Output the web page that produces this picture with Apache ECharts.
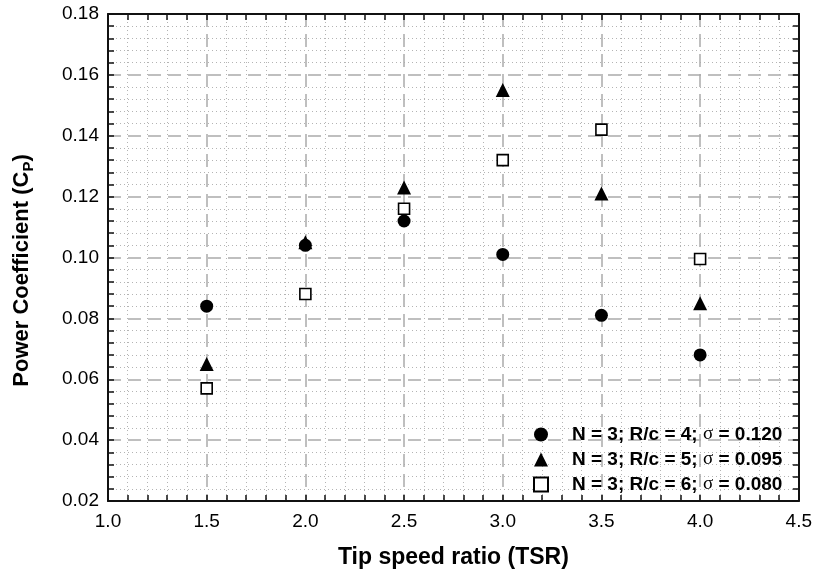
<!DOCTYPE html>
<html lang="en">
<head>
    <meta charset="UTF-8">
    <title>Power coefficient vs TSR</title>
    <script src="https://fastly.jsdelivr.net/npm/echarts@6/dist/echarts.min.js"></script>
    <style>
        body { margin: 0; background: #fff; }
    </style>
</head>
<body>
    <div id="dv" style="width:815px;height:578px;"></div>
</body>
<script>
   // tip speed ratio values
   var tsr = [1.5, 2.0, 2.5, 3.0, 3.5, 4.0]
   // Cp for each configuration
   var cpRc4 = [0.084, 0.104, 0.112, 0.101, 0.081, 0.068]
   var cpRc5 = [0.065, 0.105, 0.123, 0.155, 0.121, 0.085]
   var cpRc6 = [0.057, 0.088, 0.116, 0.132, 0.142, 0.0995]
   var names = ['N = 3; R/c = 4; σ = 0.120', 'N = 3; R/c = 5; σ = 0.095', 'N = 3; R/c = 6; σ = 0.080']

   function pairs(vals) {
       return tsr.map((x, i) => [x, vals[i]])
   }

   var dv = document.getElementById('dv')
   var myChart = echarts.init(dv)
   var font = 'Liberation Sans, Arial, sans-serif'

   var tick = { show: true, inside: true, length: 6, lineStyle: { color: '#111', width: 1.5 } }
   var minor = { show: true, splitNumber: 5, length: 6, lineStyle: { color: '#111', width: 1.5 } }
   var line = { show: true, onZero: false, lineStyle: { color: '#111', width: 2 } }
   var major = { show: true, lineStyle: { color: '#aaa', width: 1.5, type: [13, 7] } }
   var minorGrid = { show: true, lineStyle: { color: '#b4b4b4', width: 1, type: [1, 3] } }

   var option = {
        backgroundColor: '#fff',
        animation: false,
        grid: { left: 108, right: 13, top: 14, bottom: 77 },
        xAxis: [{
            type: 'value', min: 1.0, max: 4.5, interval: 0.5, position: 'bottom',
            axisLine: line, axisTick: tick, minorTick: minor,
            splitLine: major, minorSplitLine: minorGrid,
            axisLabel: { color: '#000', fontSize: 19, fontFamily: font, margin: 11,
                formatter: v => v.toFixed(1) },
            name: 'Tip speed ratio (TSR)', nameLocation: 'middle', nameGap: 45,
            nameTextStyle: { color: '#000', fontSize: 23, fontWeight: 'bold', fontFamily: font }
        }, {
            type: 'value', min: 1.0, max: 4.5, interval: 0.5, position: 'top',
            axisLine: line, axisTick: tick, minorTick: minor,
            splitLine: { show: false }, axisLabel: { show: false }
        }],
        yAxis: [{
            type: 'value', min: 0.02, max: 0.18, interval: 0.02, position: 'left',
            axisLine: line, axisTick: tick, minorTick: minor,
            splitLine: major, minorSplitLine: minorGrid,
            axisLabel: { color: '#000', fontSize: 19, fontFamily: font, margin: 9,
                formatter: v => v.toFixed(2) },
            name: '{a|Power Coefficient (C}{s|P}{a|)}', nameLocation: 'middle', nameGap: 72,
            nameTextStyle: {
                padding: [0, 26, 0, 0],
                rich: {
                    a: { color: '#000', fontSize: 22, fontWeight: 'bold', fontFamily: font, lineHeight: 28 },
                    s: { color: '#000', fontSize: 15, fontWeight: 'bold', fontFamily: font, verticalAlign: 'bottom', lineHeight: 20, padding: [10, 0, 0, 0] }
                }
            }
        }, {
            type: 'value', min: 0.02, max: 0.18, interval: 0.02, position: 'right',
            axisLine: line, axisTick: tick, minorTick: minor,
            splitLine: { show: false }, axisLabel: { show: false }
        }],
        legend: {
            orient: 'vertical', left: 528, top: 420,
            itemWidth: 14, itemHeight: 14, itemGap: 6,
            data: names,
            formatter: function (n) {
                var p = n.split('σ')
                return '{b|' + p[0] + '}{g|σ}{b|' + p[1] + '}'
            },
            textStyle: {
                padding: [0, 0, 0, 19],
                rich: {
                    b: { color: '#000', fontSize: 19, fontWeight: 'bold', fontFamily: font, lineHeight: 22 },
                    g: { color: '#000', fontSize: 19, fontWeight: 'normal', fontFamily: 'Liberation Serif, serif', lineHeight: 22 }
                }
            }
        },
        series: [{
            name: names[0], type: 'scatter', z: 4,
            symbol: 'circle', symbolSize: 13,
            itemStyle: { color: '#000', opacity: 1 },
            data: pairs(cpRc4)
        }, {
            name: names[1], type: 'scatter', z: 3,
            symbol: 'triangle', symbolSize: 14,
            itemStyle: { color: '#000', opacity: 1 },
            data: pairs(cpRc5)
        }, {
            name: names[2], type: 'scatter', z: 3,
            symbol: 'rect', symbolSize: 11,
            itemStyle: { color: '#fff', borderColor: '#000', borderWidth: 1.6, opacity: 1 },
            data: pairs(cpRc6)
        }]
   }
   myChart.setOption(option)
</script>
</html>
